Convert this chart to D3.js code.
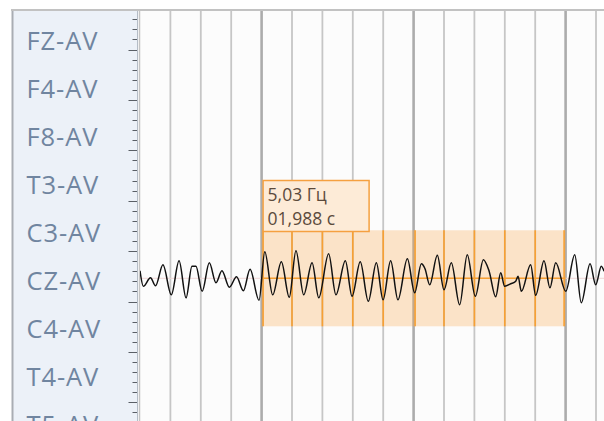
<!DOCTYPE html>
<html><head><meta charset="utf-8">
<script src="https://cdn.jsdelivr.net/npm/d3@7"></script>
<style>html,body{margin:0;padding:0;background:#fff;overflow:hidden}svg{display:block}</style>
</head><body>
<script>
// ---- data ----
const channels = ["FZ-AV","F4-AV","F8-AV","T3-AV","C3-AV","CZ-AV","C4-AV","T4-AV","T5-AV"];
const activeChannel = "CZ-AV";
// CZ-AV signal: time (s) and amplitude (µV)
const sigTime = [0.200,0.222,0.269,0.302,0.351,0.406,0.457,0.503,0.542,0.568,0.609,0.656,0.700,0.739,0.788,0.835,0.880,0.924,0.983,
 1.021,1.073,1.130,1.182,1.226,1.277,1.332,1.376,1.441,1.489,1.551,1.595,1.649,1.702,1.755,1.799,1.849,1.897,1.959,
 2.007,2.051,2.075,2.106,2.156,2.200,2.248,2.303,2.353,2.406,2.459,2.496,2.540,2.573,2.599,2.639,2.672,2.687,2.709,2.770,2.803,2.858,2.897,2.935,
 3.001,3.060,3.103,3.161,3.198,3.235,3.253];
const sigValue = [15,-16,1,-15,27,-33,35,-39,24,24,-26,31,-9,15,-18,3,-25,18,-44,
 53,-33,33,-38,55,-33,31,-39,49,-33,35,-36,33,-46,31,-43,35,-43,39,
 -29,29,19,-13,46,-23,31,-53,47,-36,37,15,-37,11,-16,-11,-6,4,-26,27,-34,35,-19,31,
 -26,47,-49,29,-13,24,14];
const timeDomain = [0.2, 3.2526];
const gridStep = 0.2;           // s per division
const majorEvery = 1;           // s
const selection = [1.0, 3.0];   // s
const tipLines = ["5,03 Гц", "01,988 с"];
const rulerUnits = d3.range(2, 42);

// ---- layout ----
const W = 604, H = 421;
const plotL = 140, plotR = 604, topY = 10;
const svg = d3.select("body").append("svg").attr("width", W).attr("height", H);

const x = d3.scaleLinear().domain(timeDomain).range([plotL, plotR]);
const chY = d3.scaleLinear().domain([0, channels.length - 1]).range([38.3, 38.3 + 48 * (channels.length - 1)]);
const amp = d3.scaleLinear().domain([-100, 100]).range([50, -50]);
const ruler = d3.scaleLinear().domain([0, 40]).range([-0.9, 402.3]);

svg.append("defs").append("clipPath").attr("id","plotclip")
  .append("rect").attr("x", plotL).attr("y", topY).attr("width", plotR - plotL).attr("height", H - topY);

// plot background
svg.append("rect").attr("x", plotL).attr("y", topY).attr("width", plotR - plotL).attr("height", H - topY).attr("fill", "#fcfcfc");

// left panel
svg.append("rect").attr("x", 12).attr("y", topY).attr("width", 126).attr("height", H - topY).attr("fill", "#ecf1f8");
svg.append("line").attr("x1", 12.5).attr("x2", 12.5).attr("y1", topY).attr("y2", H).attr("stroke", "#a9adb3").attr("stroke-width", 2);
svg.append("line").attr("x1", 137.5).attr("x2", 137.5).attr("y1", topY).attr("y2", H).attr("stroke", "#b4bcc6").attr("stroke-width", 1);
svg.append("line").attr("x1", 139.5).attr("x2", 139.5).attr("y1", topY).attr("y2", H).attr("stroke", "#c4c4c4").attr("stroke-width", 1.5);

// ruler ticks
svg.append("g").selectAll("line").data(rulerUnits).join("line")
  .attr("x1", d => d % 5 === 0 ? 128.5 : 132.5).attr("x2", 137)
  .attr("y1", d => Math.round(ruler(d)) + 0.5).attr("y2", d => Math.round(ruler(d)) + 0.5)
  .attr("stroke", "#5a5f66").attr("stroke-width", 1);

// channel labels
svg.append("g").selectAll("text").data(channels).join("text")
  .attr("x", 26.5).attr("y", (d, i) => chY(i) + 11.8)
  .attr("font-family", "'Open Sans', 'Noto Sans', sans-serif").attr("font-size", 25.5)
  .attr("letter-spacing", 0.9)
  .attr("fill", "#7085a0").text(d => d);

const plot = svg.append("g").attr("clip-path", "url(#plotclip)");

// grid
const gridTimes = d3.range(0.2, 3.2526, gridStep).map(t => +t.toFixed(3));
const isMajor = t => Math.abs(t / majorEvery - Math.round(t / majorEvery)) < 1e-6;
plot.append("g").selectAll("line").data(gridTimes.filter(t => t > 0.2)).join("line")
  .attr("x1", d => x(d)).attr("x2", d => x(d)).attr("y1", topY).attr("y2", H)
  .attr("stroke", d => isMajor(d) ? "#acacac" : "#c6c6c6")
  .attr("stroke-width", d => isMajor(d) ? 2.6 : 1.8);

const cz = channels.indexOf(activeChannel);
const base = chY(cz);

// baseline (faint)
plot.append("line").attr("x1", plotL).attr("x2", plotR).attr("y1", base).attr("y2", base)
  .attr("stroke", "#f0d6d6").attr("stroke-width", 1);

// selection
const sx0 = x(selection[0]), sx1 = x(selection[1]);
plot.append("rect").attr("x", sx0).attr("y", chY(cz - 1)).attr("width", sx1 - sx0).attr("height", chY(cz + 1) - chY(cz - 1))
  .attr("fill", "#f9a03f").attr("fill-opacity", 0.28);
const selTimes = gridTimes.filter(t => t >= selection[0] - 1e-6 && t <= selection[1] + 1e-6);
plot.append("g").selectAll("line").data(selTimes).join("line")
  .attr("x1", d => isMajor(d) ? x(d) + (d === selection[1] ? -1.5 : 1.5) : x(d))
  .attr("x2", d => isMajor(d) ? x(d) + (d === selection[1] ? -1.5 : 1.5) : x(d))
  .attr("y1", chY(cz - 1)).attr("y2", chY(cz + 1))
  .attr("stroke", "#f7a033").attr("stroke-width", 1.6);
plot.append("line").attr("x1", sx0).attr("x2", sx1).attr("y1", base).attr("y2", base)
  .attr("stroke", "#f7a033").attr("stroke-width", 1.6);

// signal
const pts = sigTime.map((t, i) => [t, sigValue[i]]);
const line = d3.line().x(d => x(d[0])).y(d => base + amp(d[1])).curve(d3.curveMonotoneX);
plot.append("path").attr("d", line(pts)).attr("fill", "none").attr("stroke", "#111").attr("stroke-width", 1.5);

// tooltip
const tip = svg.append("g");
tip.append("rect").attr("x", sx0 + 1.5).attr("y", 180.5).attr("width", 106).attr("height", 51)
  .attr("fill", "#fdebd7").attr("stroke", "#f5a040").attr("stroke-width", 1.5);
tip.selectAll("text").data(tipLines).join("text")
  .attr("x", sx0 + 6).attr("y", (d, i) => 200.5 + i * 24.5)
  .attr("font-family", "'Open Sans', 'Noto Sans', sans-serif").attr("font-size", 17.5)
  .attr("fill", "#5b4a3c").text(d => d);

// top border
svg.append("line").attr("x1", 11).attr("x2", W).attr("y1", 10).attr("y2", 10).attr("stroke", "#c2c2c2").attr("stroke-width", 2);
</script>
</body></html>
